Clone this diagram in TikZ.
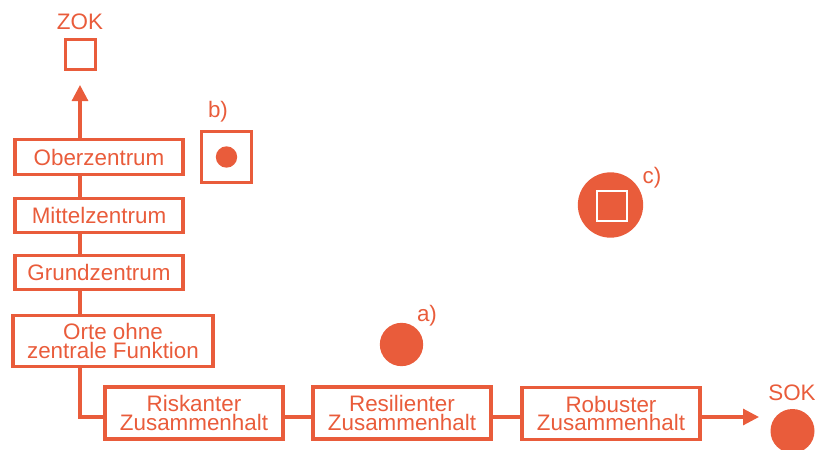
\documentclass[tikz,border=0pt]{standalone}
\usepackage{fontspec}
\setmainfont{Liberation Sans}
\usetikzlibrary{arrows.meta}
\definecolor{ora}{HTML}{E95C3B}
\begin{document}
\begin{tikzpicture}[x=0.75pt,y=-0.75pt,
  every node/.style={text=ora,font=\fontsize{16.8}{14.2}\selectfont},
  box/.style={draw=ora,line width=2.3pt,inner sep=0pt,align=center},
  conn/.style={draw=ora,line width=2.3pt},
  arr/.style={conn,-{Triangle[length=12pt,width=12pt]}},
  lbl/.style={inner sep=0pt}]
\useasboundingbox (0,0) rectangle (815,450);
% hierarchy boxes
\node[box,minimum width=126pt,minimum height=26.5pt] (ober) at (99,157) {Oberzentrum};
\node[box,minimum width=126pt,minimum height=26pt] (mittel) at (99,215.5) {Mittelzentrum};
\node[box,minimum width=126pt,minimum height=26pt] (grund) at (99,272.5) {Grundzentrum};
\node[box,minimum width=150pt,minimum height=38pt] (orte) at (113,341) {Orte ohne\\zentrale Funktion};
\node[box,minimum width=133.5pt,minimum height=39pt] (risk) at (194,413) {Riskanter\\Zusammenhalt};
\node[box,minimum width=133.5pt,minimum height=39pt] (resi) at (402,413) {Resilienter\\Zusammenhalt};
\node[box,minimum width=133.5pt,minimum height=39pt] (robu) at (611,413.5) {Robuster\\Zusammenhalt};
% ZOK
\node[lbl] (zoklbl) at (80,22) {ZOK};
\node[draw=ora,line width=2.3pt,minimum size=23pt,inner sep=0pt] (zok) at (80.5,54.5) {};
\coordinate (vx) at (80,0);
\coordinate (arrtop) at (80,85);
\draw[arr] (ober.north -| vx) -- (arrtop);
\draw[conn] (ober.south -| vx) -- (mittel.north -| vx);
\draw[conn] (mittel.south -| vx) -- (grund.north -| vx);
\draw[conn] (grund.south -| vx) -- (orte.north -| vx);
\coordinate (hy) at (0,417);
\draw[conn] (orte.south -| vx) |- (risk.west |- hy);
\draw[conn] (risk.east |- hy) -- (resi.west |- hy);
\draw[conn] (resi.east |- hy) -- (robu.west |- hy);
\coordinate (sokarr) at (759,417);
\draw[arr] (robu.east |- hy) -- (sokarr);
% SOK
\node[lbl] (soklbl) at (792,393) {SOK};
\node[circle,fill=ora,minimum size=33pt,inner sep=0pt] (sok) at (792.5,431) {};
% b)
\node[lbl] (blbl) at (218,112) {b)};
\node[draw=ora,line width=2.3pt,minimum size=38pt,inner sep=0pt] (bbox) at (226.5,157) {};
\node[circle,fill=ora,minimum size=16pt,inner sep=0pt] (bdot) at (bbox.center) {};
% a)
\node[lbl] (albl) at (427,316) {a)};
\node[circle,fill=ora,minimum size=32.5pt,inner sep=0pt] (adot) at (401.5,344.5) {};
% c)
\node[lbl] (clbl) at (652,178) {c)};
\node[circle,fill=ora,minimum size=49pt,inner sep=0pt] (cdot) at (610.5,205) {};
\node[draw=white,line width=1.6pt,minimum size=22.5pt,inner sep=0pt] (csq) at (612,206) {};
\end{tikzpicture}
\end{document}
